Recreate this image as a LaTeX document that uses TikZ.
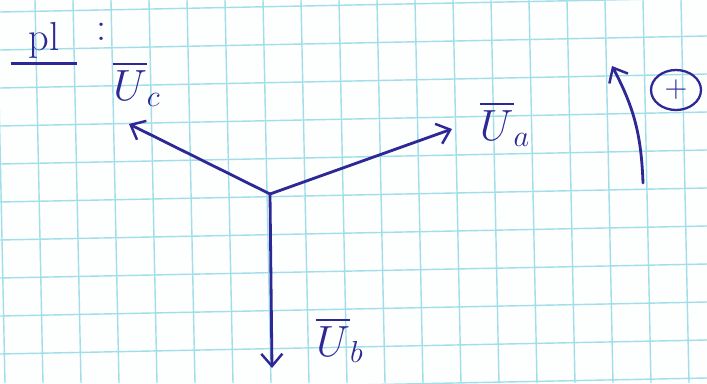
\documentclass[tikz,border=0pt]{standalone}
\usepackage{amsmath}
\usetikzlibrary{arrows.meta,positioning,shapes.geometric}

\definecolor{ink}{RGB}{45,40,150}
\definecolor{gridcyan}{RGB}{160,222,234}
\definecolor{paper}{RGB}{253,254,254}

\begin{document}
\begin{tikzpicture}[x=0.02cm, y=-0.02cm,
  gridline/.style={draw=gridcyan, line width=0.8pt},
  phasor/.style={draw=ink, line width=1.6pt, line cap=round,
                 -{Straight Barb[length=7pt, width=12pt, line width=1.4pt]}},
  lbl/.style={text=ink, font=\fontsize{23}{27}\selectfont, inner sep=0pt},
]
  \fill[paper] (0,0) rectangle (707,383);
  \useasboundingbox (0,0) rectangle (707,383);

  % squared paper, slightly turned
  \begin{scope}
    \clip (0,0) rectangle (707,383);
    \foreach \k in {-1,...,17}
      \draw[gridline] ({35+38*\k},0) -- ({35+38*\k+8},383);
    \foreach \k in {0,...,10}
      \draw[gridline] (0,{12+38*\k}) -- (707,{12+38*\k-14});
  \end{scope}

  % phasor tips
  \coordinate (O)  at (270,194);
  \coordinate (ua) at (452,129);
  \coordinate (ub) at (272,368);
  \coordinate (uc) at (129,124);

  \draw[phasor] (O) -- (ua);
  \draw[phasor] (O) -- (ub);
  \draw[phasor] (O) -- (uc);

  \node[lbl] (Ualbl) at (505,124) {$\overline{U}_a$};
  \node[lbl] (Ublbl) at (340,340) {$\overline{U}_b$};
  \node[lbl] (Uclbl) at (137,84)  {$\overline{U}_c$};

  % title
  \node[lbl, inner xsep=10pt, inner ysep=3pt] (title) at (44,40) {pl};
  \draw[ink, line width=1.6pt] (title.south west) -- (title.south east);
  \node[lbl] (colon) at (102,32) {:};

  % sense of rotation
  \coordinate (rotbot) at (643,183);
  \coordinate (rottip) at (612,66);
  \draw[phasor] (rotbot) to[out=92, in=-62] (rottip);
  \node[lbl, draw=ink, ellipse, line width=1.3pt, font=\fontsize{18}{20}\selectfont,
        minimum width=1.0cm, minimum height=0.8cm] (sense) at (676,90) {+};
\end{tikzpicture}
\end{document}
